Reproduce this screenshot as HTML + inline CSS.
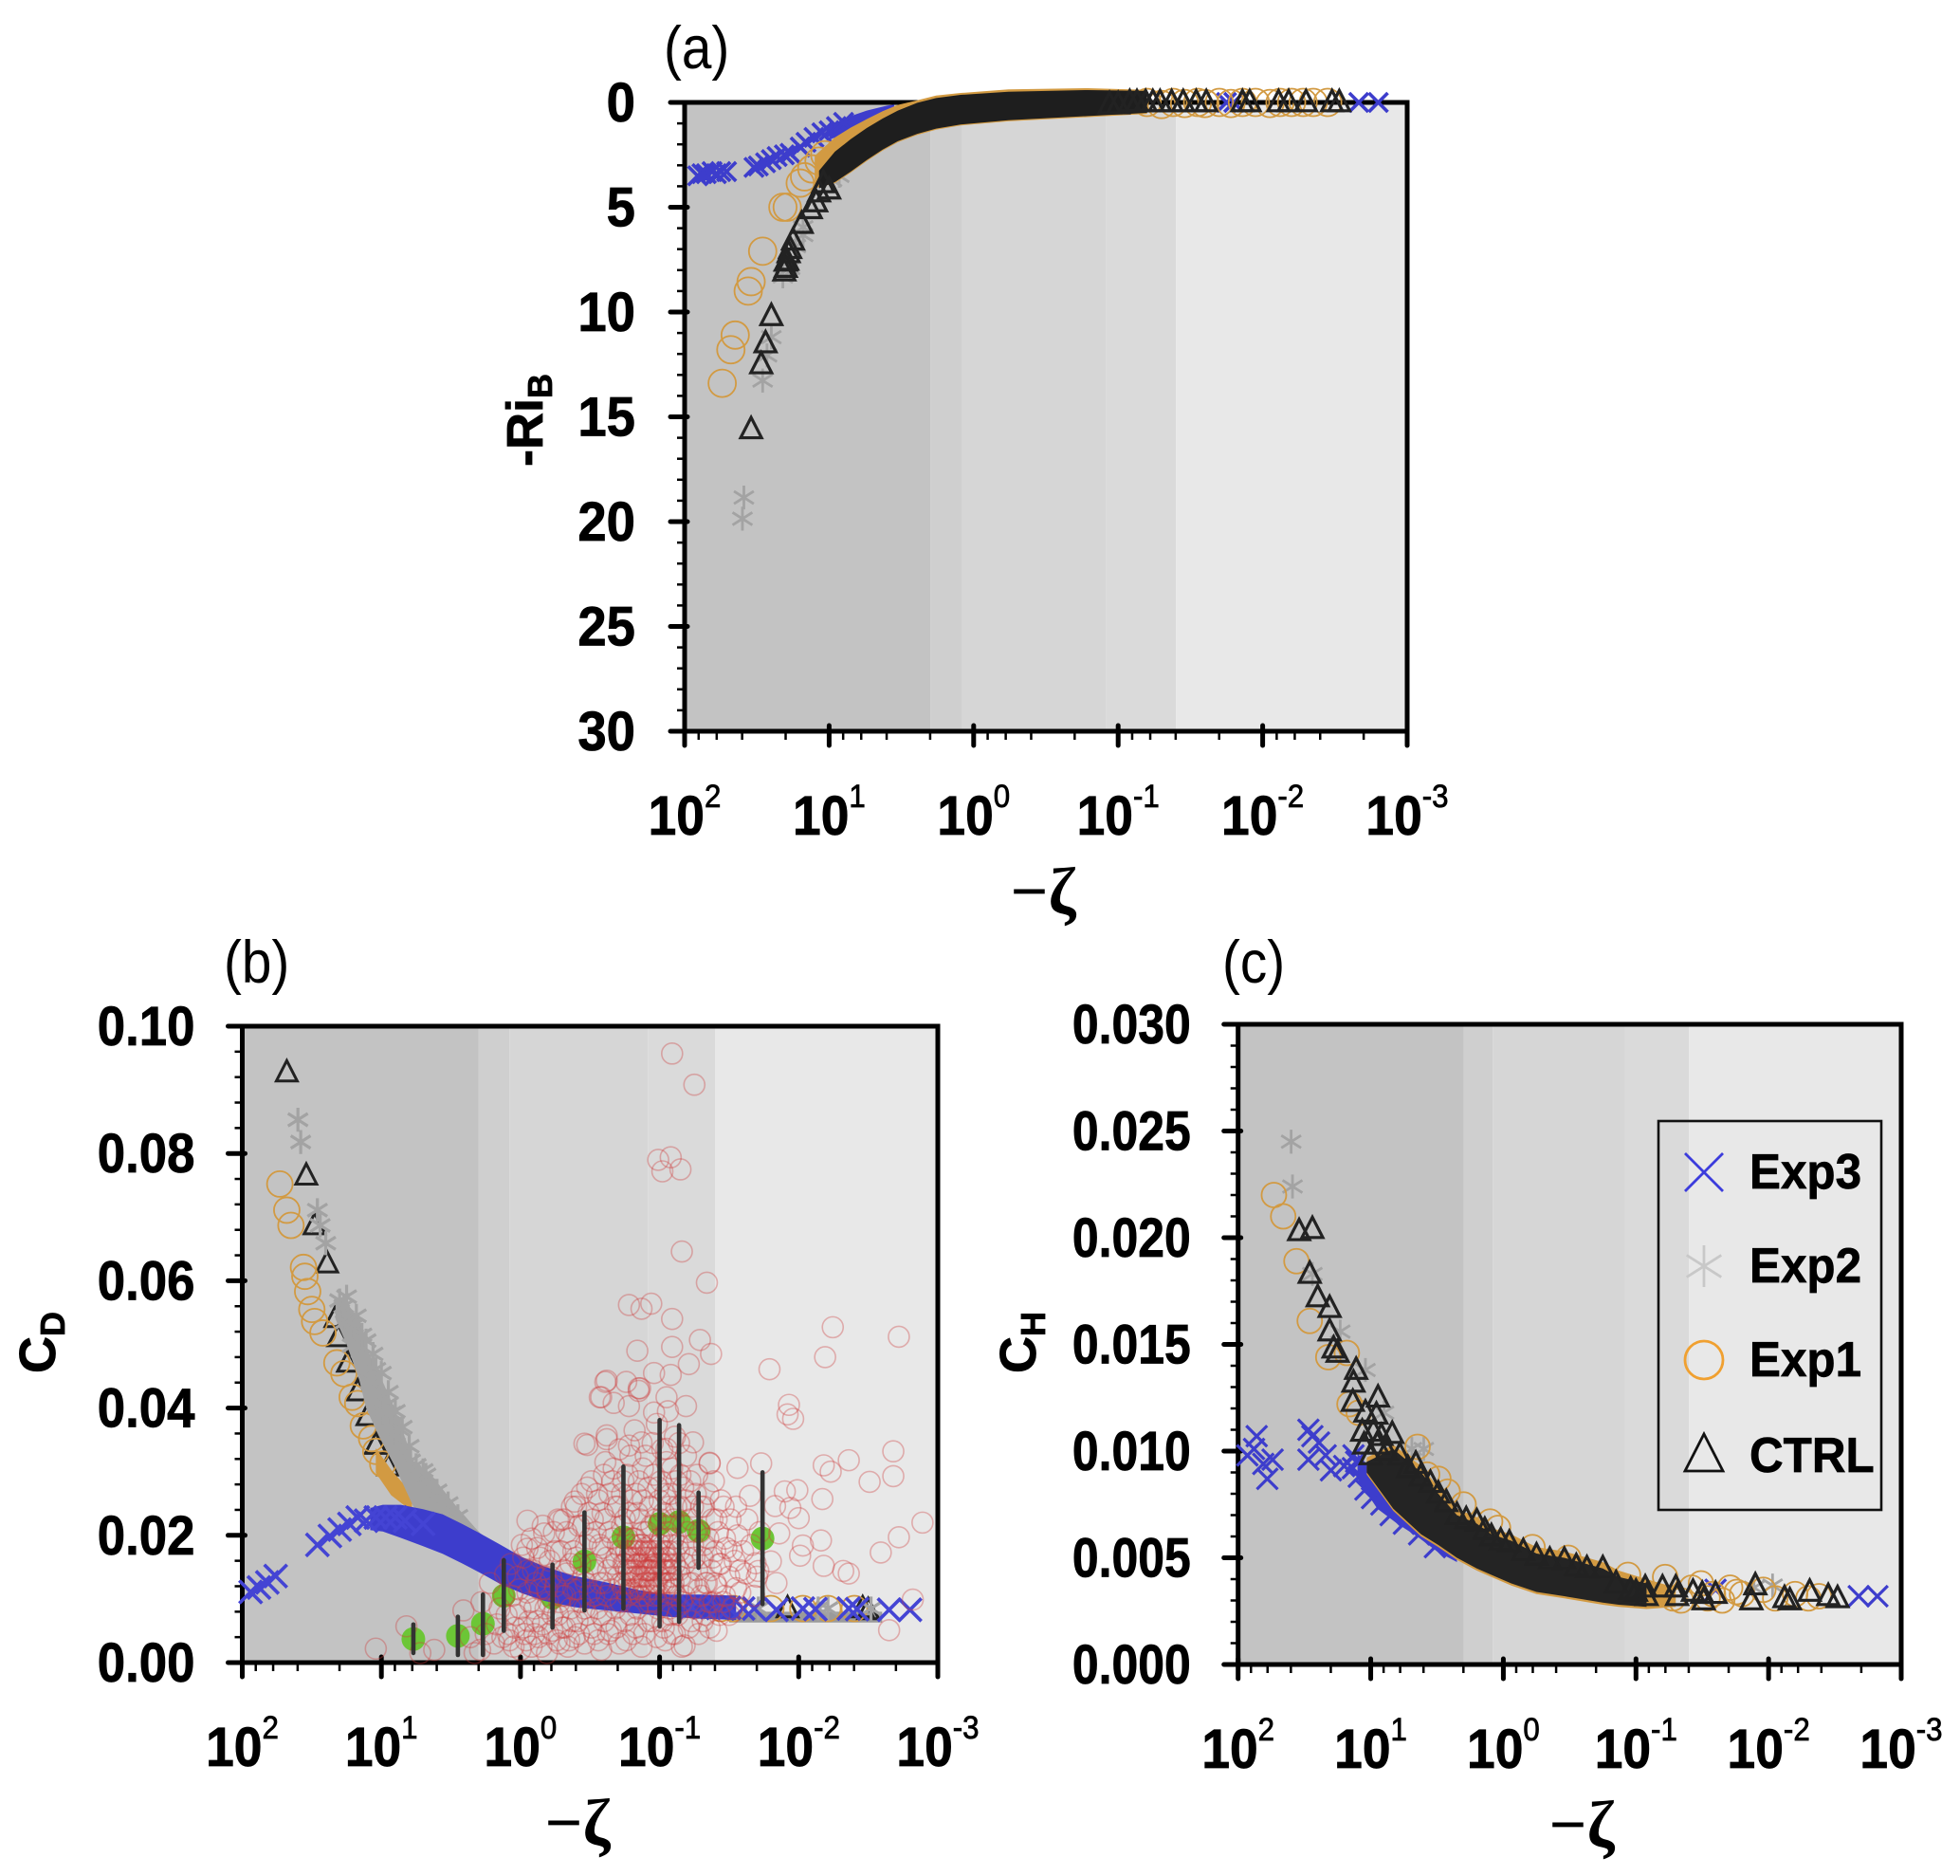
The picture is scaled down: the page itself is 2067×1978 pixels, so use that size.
<!DOCTYPE html>
<html lang="en">
<head>
<meta charset="utf-8">
<title>Stability dependence of bulk coefficients</title>
<style>
html,body{margin:0;padding:0;background:#fff;}
svg{display:block;}
text{font-family:"Liberation Sans",sans-serif;fill:#000;}
</style>
</head>
<body>
<svg id="chart" xmlns="http://www.w3.org/2000/svg" width="2067" height="1978" viewBox="0 0 2067 1978"></svg>
<script>
// All x values are log10(-zeta).
const xTickExponents = ["2","1","0","-1","-2","-3"];
const shadeEdges = [2, 0.3, 0.08, -0.916, -1.4, -3];
const shadeColors = ["#c3c3c3","#cfcfcf","#d6d6d6","#dadada","#e8e8e8"];
const riTicks = ["0","5","10","15","20","25","30"];
const cdTicks = ["0.00","0.02","0.04","0.06","0.08","0.10"];
const chTicks = ["0.000","0.005","0.010","0.015","0.020","0.025","0.030"];
const legendLabels = ["Exp3","Exp2","Exp1","CTRL"];

// Panel (a): [log10(-zeta), -RiB]
const a_exp3 = [[1.91,3.5],[1.88,3.4],[1.85,3.4],[1.81,3.3],[1.78,3.4],[1.75,3.3],[1.71,3.3],[1.52,3.1],[1.49,3.03],[1.44,2.88],[1.4,2.73],[1.36,2.58],[1.31,2.5],[1.27,2.43],[1.2,2.13],[1.16,1.9],[1.105,1.67],[1.05,1.45],[1.0,1.35],[0.95,1.15],[0.9,0.95],[-1.75,0],[-1.8,0],[-2.665,0],[-2.8,0]];
const a_exp2 = [[1.59,18.85],[1.6,19.86],[1.46,13.27],[1.43,12.07],[1.4,11.2],[1.32,8.3],[1.27,7.9],[1.23,6.86],[1.18,6.33],[1.18,5.96],[0.98,3.7],[0.93,3.5]];
const a_exp1 = [[1.74,13.4],[1.68,11.8],[1.65,11.1],[1.56,9.0],[1.54,8.55],[1.46,7.1],[1.32,5.0],[1.29,5.0],[1.2,3.85],[1.17,3.55],[1.12,3.17],[1.07,2.8],[1.03,2.5],[-1.2,0],[-1.3,0.1],[-1.38,0],[-1.46,0.05],[-1.55,0],[-1.6,0.05],[-1.7,0],[-1.78,0.05],[-1.86,0],[-1.95,0],[-2.05,0.05],[-2.12,0],[-2.2,0],[-2.28,0],[-2.35,0],[-2.45,0]];
const a_ctrl = [[1.4,10.2],[1.44,11.5],[1.47,12.5],[1.54,15.6],[1.31,8.07],[1.3,7.9],[1.3,7.6],[1.29,7.56],[1.28,7.2],[1.27,7.0],[1.25,6.6],[1.19,5.8],[1.127,5.1],[1.09,4.77],[1.0,4.16],[1.04,3.86],[1.07,4.3],[-1.0,0.1],[-0.94,0.1],[-1.08,0],[-1.13,0],[-1.19,0],[-1.24,0],[-1.29,0],[-1.37,0],[-1.45,0],[-1.54,0],[-1.61,0],[-1.86,0],[-1.91,0],[-2.11,0],[-2.18,0],[-2.3,0],[-2.48,0],[-2.53,0]];
const a_bandExp3Log = [1.0,0.85,0.74,0.6,0.55];
const a_bandExp3Lo = [1.1,0.65,0.39,0.15,0.1];
const a_bandExp3Hi = [1.8,1.3,0.95,0.4,0.2];
const a_bandExp1Log = [1.1,0.96,0.85,0.74,0.63,0.525,0.39,0.26,0.09,-0.24,-0.79,-1.2];
const a_bandExp1Lo = [2.55,1.67,1.2,0.8,0.42,0.12,-0.1,-0.33,-0.45,-0.62,-0.68,-0.6];
const a_bandExp1Hi = [4.1,3.85,3.35,2.8,2.3,1.9,1.55,1.3,1.1,0.9,0.7,0.55];
const a_bandCtrlLog = [1.07,0.96,0.85,0.74,0.63,0.525,0.39,0.26,0.09,-0.24,-0.79,-1.2];
const a_bandCtrlLo = [3.26,2.35,1.75,1.22,0.77,0.39,0.015,-0.21,-0.36,-0.51,-0.59,-0.55];
const a_bandCtrlHi = [4.1,3.8,3.3,2.75,2.25,1.85,1.5,1.25,1.05,0.85,0.65,0.5];

// Panel (b): [log10(-zeta), CD]
const b_exp3 = [[1.94,0.0111],[1.88,0.0118],[1.82,0.0126],[1.76,0.0136],[1.46,0.0185],[1.37,0.0199],[1.3,0.0209],[1.23,0.0218],[1.17,0.0228],[1.11,0.0223],[1.04,0.0228],[0.97,0.0228],[0.9,0.0228],[0.83,0.0223],[0.7,0.0218],[-1.23,0.0087],[-1.32,0.0087],[-1.42,0.0086],[-1.5,0.0086],[-1.6,0.0085],[-1.68,0.0085],[-1.84,0.0083],[-2.03,0.0085],[-2.12,0.0084],[-2.36,0.0085],[-2.42,0.0084],[-2.65,0.0083],[-2.8,0.0083]];
const b_exp2 = [[1.6,0.0853],[1.58,0.0818],[1.46,0.0711],[1.44,0.0687],[1.4,0.0659],[1.3,0.0569],[1.26,0.0535],[1.21,0.0498],[1.11,0.0506],[1.04,0.0461],[0.95,0.0407],[0.93,0.0392],[0.87,0.0367],[0.79,0.0317],[0.7,0.0302],[1.27,0.056],[1.2,0.053],[1.08,0.0441],[0.99,0.0393],[0.9,0.036],[1.25,0.0575],[1.18,0.0545],[1.14,0.0515],[1.06,0.0485],[1.0,0.0455],[0.95,0.0425],[0.9,0.0395],[0.85,0.037],[0.8,0.034],[0.75,0.031],[0.68,0.0295],[0.6,0.027],[0.52,0.025],[0.45,0.023],[-1.71,0.0085],[-2.14,0.0085],[-2.21,0.0085],[-2.52,0.0085]];
const b_exp1 = [[1.73,0.0752],[1.68,0.0711],[1.65,0.0687],[1.56,0.0621],[1.55,0.0607],[1.53,0.0583],[1.5,0.0555],[1.48,0.0536],[1.42,0.0518],[1.32,0.0471],[1.27,0.0454],[1.21,0.0417],[1.17,0.0407],[1.13,0.0372],[1.07,0.0352],[1.04,0.0332],[0.99,0.0312],[-1.44,0.0085],[-1.53,0.0085],[-1.8,0.0085],[-2.03,0.0085],[-2.21,0.0085],[-2.4,0.0085]];
const b_ctrl = [[1.68,0.0927],[1.54,0.0765],[1.48,0.0687],[1.39,0.0627],[1.33,0.0541],[1.31,0.0511],[1.24,0.0471],[1.17,0.0426],[1.1,0.0387],[1.04,0.0342],[0.95,0.0308],[-1.92,0.0085],[-2.46,0.0085],[-2.5,0.0082]];
const b_bandExp3Log = [1.08,0.99,0.86,0.7,0.56,0.42,0.29,0.15,-0.01,-0.17,-0.39,-0.62,-0.85,-1.07,-1.3,-1.55];
const b_bandExp3Lo = [0.0208,0.0206,0.0196,0.0183,0.0171,0.0156,0.0141,0.0124,0.0109,0.0097,0.0087,0.0082,0.0077,0.0072,0.0069,0.0067];
const b_bandExp3Hi = [0.0243,0.0248,0.0248,0.0241,0.0233,0.0218,0.0203,0.0186,0.0166,0.0151,0.0136,0.0126,0.0114,0.0107,0.0107,0.0105];
const b_bandExp2Log = [1.33,1.25,1.16,1.11,1.02,0.9,0.77,0.63,0.47,0.33,0.17];
const b_bandExp2Lo = [0.054,0.05,0.0445,0.04,0.0357,0.0307,0.0245,0.0225,0.0205,0.019,0.016];
const b_bandExp2Hi = [0.0575,0.0565,0.0541,0.0496,0.0456,0.0397,0.0317,0.0292,0.0248,0.0213,0.0175];
const b_bandExp1Log = [1.04,0.93,0.83,0.78];
const b_bandExp1Lo = [0.0298,0.0263,0.0246,0.0238];
const b_bandExp1Hi = [0.0337,0.0303,0.0278,0.0253];
const b_tailLog = [-1.5,-1.9,-2.3,-2.6];
const b_tailLo = [0.0063,0.0063,0.0063,0.0063];
const b_tailHi = [0.008,0.008,0.008,0.008];

const b_obsMeanLog = [0.77,0.45,0.27,0.12,-0.23,-0.46,-0.74,-1.0,-1.14,-1.28,-1.74];
const b_obsMean = [0.0037,0.0042,0.0061,0.0105,0.0102,0.0159,0.0197,0.0218,0.0221,0.0207,0.0195];
const b_obsLow = [0.0015,0.0012,0.0012,0.005,0.0055,0.0082,0.0085,0.0057,0.0064,0.0149,0.0092];
const b_obsHigh = [0.006,0.0072,0.0107,0.0161,0.0154,0.0236,0.0308,0.0381,0.0373,0.0267,0.0299];

const b_obs = [
[-2.245,0.0527],[-2.72,0.0512],[-2.19,0.048],[-1.79,0.0461],[-1.93,0.0405],[-1.92,0.039],[-1.96,0.0383],[-2.68,0.0332],[-2.68,0.0293],[-2.51,0.0284],[-2.36,0.0318],[-2.18,0.031],[-2.23,0.03],[-1.73,0.0313],[-1.56,0.0306],[-1.36,0.0314],[-2.17,0.0257],[-1.65,0.0262],[-1.9,0.0269],[-1.99,0.0271],[-1.83,0.0246],[-1.94,0.0243],[-2,0.0227],[-2.89,0.022],[-2.72,0.0197],[-2.59,0.0173],[-2.16,0.0192],[-1.86,0.0203],[-2.03,0.0184],[-2.01,0.0168],[-2.18,0.0152],[-2.32,0.0144],[-2.36,0.014],[-1.84,0.0125],[-1.69,0.0156],[-2.82,0.0099],[-2.65,0.0051],[-1.8,0.0159],[-1.71,0.0144],[-1.55,0.0117],[-1.41,0.005],[-1.18,0.0027],
[-1.09,0.0957],[-1.25,0.0908],[-0.99,0.079],[-1.08,0.0794],[-1.02,0.0772],[-1.15,0.0775],[-1.16,0.0646],[-1.34,0.0597],[-0.78,0.0562],[-0.87,0.0556],[-0.94,0.0564],[-1.09,0.054],[-1.29,0.0507],[-1.37,0.0485],[-1.09,0.0496],[-0.84,0.049],[-1.21,0.0469],[-1.08,0.0452],[-0.62,0.0443],[-0.76,0.0441],[-0.96,0.0455],[-0.86,0.0431],[-0.58,0.0417],[-0.67,0.0408],[-0.78,0.0403],[-0.85,0.0427],[-1.05,0.0417],[-1.19,0.0403],[-0.96,0.0393],[-0.46,0.0344],[-0.62,0.0351],[-0.78,0.0341],[-0.87,0.0346],[-1.05,0.0336],[-1.24,0.0346],[-1.36,0.0313],
[1.04,0.0022],[0.82,0.0057],[0.72,0.0015],[0.62,0.002],[0.41,0.0082],[0.36,0.004],[0.29,0.002],[0.33,0.0015],[0.17,0.006],[0.13,0.004],[0.11,0.0139],[-0.05,0.0223],[-0.17,0.0203],[-0.05,0.0179],[-0.17,0.0169],[-0.28,0.0223],[-0.39,0.0253],[-0.48,0.0342],[-0.62,0.0357],[-0.61,0.0441],[-0.57,0.0417],[-0.85,0.0431],
[0.1,0.0075],[0.08,0.0035],[0.06,0.0105],[0.04,0.0055],[0.02,0.0135],[0,0.002],[0,0.0085],[-0.02,0.0165],[-0.03,0.0045],[-0.05,0.011],[-0.06,0.0065],[-0.08,0.0025],[-0.09,0.0145],[-0.1,0.0085],[-0.12,0.018],[-0.13,0.004],[-0.14,0.0115],[-0.16,0.006],[-0.17,0.0135],[-0.19,0.0015],[-0.2,0.0095],[-0.21,0.016],[-0.23,0.005],[-0.24,0.0205],[-0.25,0.012],[-0.27,0.0075],[-0.28,0.003],[-0.29,0.0175],[-0.3,0.0105],
[-0.31,0.0225],[-0.32,0.0055],[-0.33,0.014],[-0.34,0.0025],[-0.35,0.0195],[-0.36,0.0085],[-0.37,0.0245],[-0.38,0.0115],[-0.39,0.004],[-0.4,0.0165],[-0.41,0.0065],[-0.42,0.0215],[-0.43,0.0095],[-0.44,0.0265],[-0.45,0.0135],[-0.46,0.003],[-0.47,0.0185],[-0.48,0.0075],[-0.49,0.0235],[-0.5,0.011],[-0.51,0.0285],[-0.52,0.0155],[-0.53,0.0045],[-0.54,0.0205],[-0.55,0.0085],[-0.56,0.0255],[-0.57,0.0125],[-0.58,0.002],[-0.59,0.018],[-0.6,0.0295],[-0.6,0.0065],
[-0.61,0.0225],[-0.62,0.0105],[-0.63,0.0145],[-0.64,0.0265],[-0.65,0.005],[-0.66,0.0195],[-0.67,0.0305],[-0.68,0.0085],[-0.69,0.0165],[-0.7,0.0245],[-0.71,0.003],[-0.72,0.0125],[-0.73,0.0215],[-0.74,0.0285],[-0.75,0.0065],[-0.76,0.0175],[-0.77,0.0105],[-0.78,0.0235],[-0.79,0.0325],[-0.8,0.014],[-0.81,0.0045],[-0.82,0.0195],[-0.83,0.0265],[-0.84,0.0085],[-0.85,0.0155],[-0.86,0.0225],[-0.87,0.0025],[-0.88,0.0305],[-0.89,0.0125],[-0.9,0.018],[-0.91,0.0205],[-0.92,0.0065],[-0.93,0.0245],[-0.94,0.0145],[-0.95,0.0345],[-0.96,0.0105],[-0.97,0.0165],[-0.98,0.004],[-0.99,0.0275],[-1,0.0195],
[-0.7,0.0135],[-0.72,0.0175],[-0.74,0.0115],[-0.75,0.0155],[-0.77,0.0195],[-0.78,0.0125],[-0.8,0.0165],[-0.81,0.011],[-0.82,0.0145],[-0.84,0.0185],[-0.85,0.012],[-0.87,0.0155],[-0.88,0.0205],[-0.89,0.0135],[-0.9,0.0105],[-0.91,0.0165],[-0.93,0.0125],[-0.94,0.0185],[-0.95,0.015],[-0.96,0.0115],[-0.98,0.0175],[-0.99,0.0135],[-1,0.0105],[-1.01,0.0155],[-1.02,0.0195],[-1.03,0.0125],[-1.05,0.0165],[-1.06,0.011],[-1.07,0.0145],[-1.08,0.0185],[-1.1,0.0125],[-1.11,0.0155],[-1.12,0.0105],[-1.14,0.0175],[-1.15,0.0135],
[-0.76,0.0145],[-0.79,0.0175],[-0.83,0.0165],[-0.86,0.0135],[-0.92,0.0145],[-0.97,0.0155],[-1.04,0.0145],[-1.09,0.0135],[-0.83,0.0115],[-0.98,0.0125],[-0.88,0.0175],[-0.93,0.0165],[-1.03,0.0175],[-0.75,0.0125],[-1.07,0.0125],
[-1.01,0.0285],[-1.02,0.0065],[-1.03,0.0235],[-1.04,0.0035],[-1.05,0.0315],[-1.06,0.0215],[-1.07,0.0085],[-1.08,0.0265],[-1.09,0.0045],[-1.1,0.0195],[-1.11,0.0355],[-1.12,0.0245],[-1.13,0.0075],[-1.14,0.0145],[-1.15,0.0295],[-1.16,0.0025],[-1.17,0.0215],[-1.18,0.0105],[-1.19,0.0255],[-1.2,0.0165],[-1.21,0.0055],[-1.22,0.0225],[-1.23,0.0125],[-1.24,0.0185],[-1.25,0.0085],[-1.26,0.0265],[-1.27,0.0145],[-1.28,0.0045],[-1.29,0.0205],[-1.3,0.0105],[-1.31,0.0165],[-1.32,0.0245],[-1.33,0.0075],[-1.34,0.0125],[-1.35,0.0195],[-1.36,0.0055],[-1.37,0.0145],[-1.38,0.0225],[-1.39,0.0095],[-1.4,0.0175],
[-1.41,0.012],[-1.42,0.0205],[-1.43,0.0075],[-1.44,0.0155],[-1.46,0.0245],[-1.47,0.0105],[-1.48,0.018],[-1.5,0.0135],[-1.51,0.0225],[-1.52,0.0085],[-1.54,0.016],[-1.56,0.02],[-1.58,0.011],[-1.6,0.0175],[-1.62,0.014],[-1.63,0.0225],[-1.66,0.0185],[-1.68,0.0105],[-1.7,0.0135],[-1.72,0.0205],
[0.28,0.0095],[0.25,0.0045],[0.22,0.0125],[0.19,0.003],[0.15,0.0085],[0.12,0.0105],[0.09,0.0045],[0.07,0.0155],[0.05,0.0025],[0.03,0.0075],[0.01,0.0115],[-0.01,0.0185],[-0.02,0.0055],[-0.04,0.0035],[-0.05,0.0145],[-0.07,0.0095],[-0.08,0.0195],[-0.1,0.0045],[-0.11,0.0125],[-0.12,0.0065],[-0.14,0.0165],[-0.15,0.0025],[-0.16,0.0215],[-0.18,0.0085],[-0.19,0.0115],[-0.2,0.0045],[-0.22,0.0135],[-0.23,0.0075],[-0.25,0.0175],[-0.26,0.0035],[-0.27,0.0225],[-0.28,0.0095],[-0.3,0.0055],[-0.31,0.0145],
[-0.32,0.0105],[-0.33,0.0205],[-0.35,0.0035],[-0.36,0.0155],[-0.37,0.0065],[-0.38,0.0175],[-0.4,0.0245],[-0.41,0.0115],[-0.42,0.0045],[-0.43,0.0155],[-0.45,0.0215],[-0.46,0.0085],[-0.47,0.0125],[-0.48,0.0275],[-0.5,0.0195],[-0.51,0.0055],[-0.52,0.0225],[-0.53,0.0105],[-0.54,0.0145],[-0.55,0.0265],[-0.56,0.0035],[-0.57,0.0185],[-0.58,0.0075],[-0.59,0.0235],[-0.6,0.0125],[-0.61,0.0315],[-0.62,0.0165],[-0.63,0.0045],
[-0.64,0.0205],[-0.65,0.0115],[-0.66,0.0285],[-0.67,0.0155],[-0.68,0.0245],[-0.69,0.0055],[-0.7,0.0185],[-0.71,0.0335],[-0.72,0.0095],[-0.73,0.0265],[-0.74,0.0155],[-0.75,0.0225],[-0.76,0.0035],[-0.77,0.0295],[-0.78,0.0165],[-0.79,0.0075],[-0.8,0.0255],[-0.81,0.0195],[-0.82,0.0365],[-0.83,0.0055],[-0.84,0.0235],[-0.85,0.0285],[-0.86,0.0105],[-0.87,0.0185],[-0.88,0.0255],[-0.89,0.0045],[-0.9,0.0325],[-0.91,0.0145],[-0.92,0.0275],[-0.93,0.0095],[-0.94,0.0215],[-0.95,0.0065],[-0.96,0.0295],[-0.97,0.0225],[-0.98,0.0375],[-0.99,0.0085],[-1,0.0255],
[-1.01,0.0225],[-1.02,0.0335],[-1.03,0.0055],[-1.04,0.0265],[-1.05,0.0205],[-1.06,0.0395],[-1.07,0.0245],[-1.08,0.0075],[-1.09,0.0305],[-1.1,0.0225],[-1.11,0.0045],[-1.12,0.0285],[-1.13,0.0185],[-1.14,0.0345],[-1.15,0.0245],[-1.16,0.0095],[-1.17,0.0275],[-1.18,0.0155],[-1.19,0.0325],[-1.2,0.0205],[-1.21,0.0125],[-1.22,0.0285],[-1.23,0.0065],[-1.24,0.0245],[-1.25,0.0165],[-1.26,0.0205],[-1.27,0.0295],[-1.28,0.0115],[-1.3,0.0245],[-1.31,0.0065],[-1.32,0.0185],[-1.33,0.0125],[-1.35,0.0265],[-1.36,0.0095],[-1.38,0.0165],[-1.39,0.0285],[-1.4,0.0125],[-1.41,0.0225],[-1.43,0.0155],[-1.44,0.0255],[-1.46,0.0095],[-1.47,0.0195],[-1.5,0.0075],[-1.52,0.0175],[-1.55,0.0245],[-1.58,0.0145],
[-0.78,0.0145],[-0.79,0.0115],[-0.8,0.0185],[-0.81,0.0135],[-0.82,0.0175],[-0.83,0.0135],[-0.84,0.0155],[-0.85,0.0175],[-0.86,0.0115],[-0.87,0.0185],[-0.88,0.0135],[-0.89,0.0165],[-0.9,0.0145],[-0.91,0.0115],[-0.92,0.0175],[-0.93,0.0145],[-0.94,0.0125],[-0.95,0.0175],[-0.96,0.0155],[-0.97,0.0125],[-0.98,0.0145],[-0.99,0.0165],[-1,0.0185],[-1.01,0.0125],[-1.02,0.0155],[-1.03,0.0145],[-1.04,0.0175],[-1.05,0.0125],[-1.06,0.0155],[-1.07,0.0175],[-1.08,0.0145],[-1.09,0.0165],[-1.1,0.0115]
];

// Panel (c): [log10(-zeta), CH]
const c_exp3 = [[1.93,0.0098],[1.86,0.0107],[1.88,0.0101],[1.81,0.0094],[1.74,0.0096],[1.78,0.0087],[1.47,0.0096],[1.47,0.011],[1.44,0.0107],[1.39,0.0104],[1.34,0.0098],[1.3,0.0091],[1.2,0.0093],[1.13,0.0098],[1.135,0.0092],[1.11,0.0095],[1.09,0.0088],[1.04,0.0082],[0.99,0.0078],[0.92,0.0075],[0.85,0.007],[0.75,0.0066],[0.635,0.0061],[0.516,0.0055],[-1.6,0.0035],[-2.68,0.0032],[-2.82,0.0032]];
const c_exp2 = [[1.6,0.0245],[1.59,0.0224],[1.44,0.0183],[1.23,0.0156],[1.04,0.0138],[0.9,0.0118],[0.69,0.0101],[0.6,0.0101],[-2.03,0.0037],[-1.89,0.0036]];
const c_exp1 = [[1.73,0.022],[1.66,0.021],[1.56,0.0189],[1.46,0.0161],[1.32,0.0144],[1.18,0.0146],[1.16,0.0122],[1.09,0.0118],[0.647,0.0102],[0.575,0.0089],[0.49,0.0087],[0.42,0.0081],[0.3,0.0075],[0.1,0.0067],[0.04,0.0064],[-0.22,0.0055],[-0.49,0.005],[-0.94,0.0042],[-1.1,0.0033],[-1.22,0.0041],[-1.28,0.0031],[-1.34,0.003],[-1.42,0.0036],[-1.49,0.0038],[-1.54,0.0031],[-1.58,0.0033],[-1.65,0.003],[-1.71,0.0036],[-1.76,0.0034],[-1.8,0.0033],[-1.96,0.0035],[-2.05,0.0031],[-2.2,0.0033],[-2.3,0.0031],[-2.38,0.0032]];
const c_ctrl = [[1.54,0.0203],[1.44,0.0204],[1.46,0.0183],[1.4,0.0172],[1.31,0.0167],[1.31,0.0156],[1.28,0.0148],[1.25,0.0146],[1.11,0.0138],[1.13,0.0132],[0.945,0.0125],[1.135,0.0123],[1.04,0.0118],[0.957,0.0117],[1.064,0.0109],[0.98,0.0109],[0.92,0.0107],[0.838,0.0108],[1.0,0.0098],[1.05,0.0103],[0.95,0.0103],[0.88,0.01],[0.78,0.0098],[0.72,0.0092],[0.66,0.0094],[0.623,0.0088],[0.55,0.0085],[0.49,0.008],[0.43,0.0076],[0.35,0.007],[0.28,0.0068],[0.2,0.0067],[0.14,0.0063],[0.09,0.006],[0.02,0.0058],[-0.045,0.0057],[-0.15,0.0053],[-0.25,0.0051],[-0.35,0.0049],[-0.46,0.0049],[-0.55,0.0046],[-0.63,0.0045],[-0.75,0.0045],[-0.85,0.0038],[-0.96,0.0035],[-1.0,0.0034],[-1.07,0.0036],[-1.08,0.0032],[-1.2,0.0036],[-1.3,0.0036],[-1.31,0.0032],[-1.43,0.0034],[-1.5,0.0033],[-1.51,0.003],[-1.6,0.0033],[-1.9,0.0037],[-1.87,0.003],[-2.12,0.0031],[-2.16,0.003],[-2.31,0.0034],[-2.45,0.0032],[-2.52,0.0031]];
const c_bandExp3Log = [1.1,0.95,0.8,0.65,0.5,0.35];
const c_bandExp3Lo = [0.0087,0.0073,0.0066,0.006,0.0053,0.0048];
const c_bandExp3Hi = [0.0099,0.0088,0.0078,0.0068,0.0059,0.0053];
const c_bandExp1Log = [1.03,0.83,0.62,0.49,0.35,0.2,0.09,-0.06,-0.25,-0.46,-0.75,-0.87,-1.08,-1.3];
const c_bandExp1Lo = [0.0089,0.0072,0.006,0.0055,0.0049,0.0044,0.0041,0.0037,0.0033,0.0031,0.0028,0.0027,0.0026,0.0027];
const c_bandExp1Hi = [0.0097,0.0103,0.0093,0.0083,0.0073,0.0069,0.0064,0.0061,0.0055,0.0053,0.0048,0.0044,0.004,0.0036];
const c_bandCtrlLog = [1.03,0.83,0.62,0.49,0.35,0.2,0.09,-0.06,-0.25,-0.46,-0.75,-0.87,-1.08];
const c_bandCtrlLo = [0.009,0.0073,0.0061,0.0056,0.005,0.0045,0.0042,0.0038,0.0034,0.0032,0.0029,0.0028,0.0027];
const c_bandCtrlHi = [0.0095,0.0101,0.009,0.008,0.007,0.0066,0.0061,0.0058,0.0052,0.005,0.0045,0.0041,0.0038];

const svg = document.getElementById('chart');
const NS = 'http://www.w3.org/2000/svg';
const BLUE = '#3d3dcc', GRAY = '#a3a3a3', ORANGE = '#d29a42', BLACK = '#222222';

function make(parent, tag, attrs) {
  const el = document.createElementNS(NS, tag);
  for (const k in attrs) el.setAttribute(k, attrs[k]);
  parent.appendChild(el);
  return el;
}
function group(parent, name) {
  const g = make(parent, 'g', {});
  
  
  return g;
}
function drawCross(g, x, y, r, color, w) {
  const p = make(g, 'path', {d:`M${x-r} ${y-r}L${x+r} ${y+r}M${x-r} ${y+r}L${x+r} ${y-r}`, stroke:color, 'stroke-width':w, fill:'none'});
  
  
}
function drawStar(g, x, y, r, color, w) {
  const h = r * 0.87, v = r * 1.05;
  const p = make(g, 'path', {d:`M${x} ${y-v}V${y+v}M${x-h} ${y-r*0.55}L${x+h} ${y+r*0.55}M${x-h} ${y+r*0.55}L${x+h} ${y-r*0.55}`, stroke:color, 'stroke-width':w, fill:'none'});
  
  
}
function drawCircle(g, x, y, r, color, w) {
  const p = make(g, 'circle', {cx:x, cy:y, r:r, stroke:color, 'stroke-width':w, fill:'none'});
  
  
}
function drawTriangle(g, x, y, r, color, w) {
  const p = make(g, 'path', {d:`M${x} ${y-r*1.15}L${x+r} ${y+r*0.8}H${x-r}Z`, stroke:color, 'stroke-width':w, fill:'none', 'stroke-linejoin':'miter'});
  
  
}

function drawPanel(cfg) {
  const root = group(svg, 'panel-' + cfg.id);
  const xOf = lg => cfg.x0 + (2 - lg) * (cfg.x1 - cfg.x0) / 5;
  const yOf = v => cfg.yBottomPx + (v - cfg.vBottom) / (cfg.vTop - cfg.vBottom) * (cfg.yTopPx - cfg.yBottomPx);
  cfg.xOf = xOf; cfg.yOf = yOf;

  // shading
  const shade = group(root, 'stability-shading');
  shadeColors.forEach((c, i) => {
    const a = xOf(shadeEdges[i]), b = xOf(shadeEdges[i + 1]);
    const r = make(shade, 'rect', {x:a, y:Math.min(cfg.yTopPx, cfg.yBottomPx), width:b - a, height:Math.abs(cfg.yBottomPx - cfg.yTopPx), fill:c});
    
    
  });

  // axes
  const axes = group(root, 'axes');
  const frame = make(axes, 'rect', {x:cfg.x0, y:Math.min(cfg.yTopPx, cfg.yBottomPx), width:cfg.x1 - cfg.x0, height:Math.abs(cfg.yBottomPx - cfg.yTopPx), fill:'none', stroke:'#000', 'stroke-width':5});
  
  

  xTickExponents.forEach((e, i) => {
    const lg = parseFloat(e);
    const x = xOf(lg);
    const t = make(axes, 'line', {x1:x, x2:x, y1:cfg.axisY - 6, y2:cfg.axisY + 15, stroke:'#000', 'stroke-width':5, 'stroke-linecap':'round'});
    
    
    if (i < xTickExponents.length - 1) {
      [0.903, 0.778, 0.602, 0.301].forEach(off => {
        const mx = xOf(lg - 1 + off);
        const m = make(axes, 'line', {x1:mx, x2:mx, y1:cfg.axisY, y2:cfg.axisY + 9, stroke:'#000', 'stroke-width':2.5});
        
        
      });
    }
    const label = make(axes, 'text', {transform:`translate(${x},${cfg.axisY + 109}) scale(0.92,1)`, 'text-anchor':'middle', 'font-size':58, 'font-weight':'bold', stroke:'#000', 'stroke-width':0.8});
    
    
    label.appendChild(document.createTextNode('10'));
    const sup = make(label, 'tspan', {'font-size':34, 'font-weight':'normal', dy:-29, stroke:'#000', 'stroke-width':0.8});
    sup.textContent = e;
  });

  const n = cfg.ticks.length;
  cfg.ticks.forEach((lab, i) => {
    const y = cfg.tickPx(i, n);
    const t = make(axes, 'line', {x1:cfg.x0 - 15, x2:cfg.x0 + 3, y1:y, y2:y, stroke:'#000', 'stroke-width':5, 'stroke-linecap':'round'});
    
    
    if (i < n - 1) {
      const next = cfg.tickPx(i + 1, n);
      for (let k = 1; k < 5; k++) {
        const my = y + (next - y) * k / 5;
        const m = make(axes, 'line', {x1:cfg.x0 - 8, x2:cfg.x0, y1:my, y2:my, stroke:'#000', 'stroke-width':2.5});
        
        
      }
    }
    const tx = make(axes, 'text', {transform:`translate(${cfg.x0 - cfg.labelGap},${y + 20}) scale(${cfg.labelScale},1)`, 'text-anchor':'end', 'font-size':58, 'font-weight':'bold', stroke:'#000', 'stroke-width':0.8});
    
    
    tx.textContent = lab;
  });

  // panel letter
  const letter = make(root, 'text', {transform:`translate(${cfg.letterX},${cfg.letterY}) scale(0.9,1)`, 'font-size':63});
  
  
  letter.textContent = '(' + cfg.id + ')';

  // x title
  const xt = make(root, 'text', {x:cfg.xTitleX, y:cfg.axisY + 192, 'text-anchor':'middle', 'font-size':70, 'font-weight':'bold', style:'font-family:"Liberation Serif","DejaVu Serif",serif'});
  
  
  xt.textContent = '\u2212\u03B6';

  // y title
  const yt = make(root, 'text', {transform:`translate(${cfg.yTitleX},${cfg.yTitleY}) rotate(-90)`, 'font-size':54, 'font-weight':'bold', stroke:'#000', 'stroke-width':0.8});
  
  
  yt.appendChild(document.createTextNode(cfg.yTitle));
  const sub = make(yt, 'tspan', {'font-size':36, dy:10});
  sub.textContent = cfg.yTitleSub;

  return root;
}

function drawBand(root, cfg, name, logs, lo, hi, color) {
  let d = '';
  logs.forEach((lg, i) => { d += (i ? 'L' : 'M') + cfg.xOf(lg) + ' ' + cfg.yOf(lo[i]); });
  for (let i = logs.length - 1; i >= 0; i--) d += 'L' + cfg.xOf(logs[i]) + ' ' + cfg.yOf(hi[i]);
  const p = make(root, 'path', {d:d + 'Z', fill:color});
  
  
}
function drawSeries(root, cfg, name, pts, fn, r, color, w) {
  const g = group(root, name);
  pts.forEach(p => fn(g, cfg.xOf(p[0]), cfg.yOf(p[1]), r, color, w));
}

const panelA = {id:'a', x0:722, x1:1484, yTopPx:108, yBottomPx:771, vTop:0, vBottom:30, axisY:771,
  ticks:riTicks, tickPx:(i, n) => 108 + i * 663 / (n - 1), labelGap:52, labelScale:0.94,
  letterX:700, letterY:72, xTitleX:1100, yTitleX:572, yTitleY:492, yTitle:'-Ri', yTitleSub:'B'};
const panelB = {id:'b', x0:255.5, x1:989, yTopPx:1082, yBottomPx:1753, vTop:0.1, vBottom:0, axisY:1753,
  ticks:cdTicks, tickPx:(i, n) => 1753 - i * 671 / (n - 1), labelGap:50, labelScale:0.91,
  letterX:236, letterY:1036, xTitleX:609, yTitleX:58, yTitleY:1448, yTitle:'C', yTitleSub:'D'};
const panelC = {id:'c', x0:1305.7, x1:2005, yTopPx:1080, yBottomPx:1755, vTop:0.03, vBottom:0, axisY:1755,
  ticks:chTicks, tickPx:(i, n) => 1755 - i * 675 / (n - 1), labelGap:50, labelScale:0.86,
  letterX:1289, letterY:1036, xTitleX:1668, yTitleX:1092, yTitleY:1448, yTitle:'C', yTitleSub:'H'};

// ---- panel (a)
const rootA = drawPanel(panelA);
const marksA = group(rootA, 'scatter-marks');
drawBand(marksA, panelA, 'exp3-dense-band', a_bandExp3Log, a_bandExp3Lo, a_bandExp3Hi, BLUE);
drawSeries(marksA, panelA, 'exp3-series', a_exp3, drawCross, 10, BLUE, 3.6);
drawSeries(marksA, panelA, 'exp2-series', a_exp2, drawStar, 12, GRAY, 2.8);
drawBand(marksA, panelA, 'exp1-dense-band', a_bandExp1Log, a_bandExp1Lo, a_bandExp1Hi, ORANGE);
drawSeries(marksA, panelA, 'exp1-series', a_exp1, drawCircle, 14.5, ORANGE, 1.8);
drawBand(marksA, panelA, 'ctrl-dense-band', a_bandCtrlLog, a_bandCtrlLo, a_bandCtrlHi, '#1e1e1e');
drawSeries(marksA, panelA, 'ctrl-series', a_ctrl, drawTriangle, 11, BLACK, 3.2);

// ---- panel (b)
const rootB = drawPanel(panelB);
const marksB = group(rootB, 'scatter-marks');
const meansB = group(marksB, 'observed-bin-means');
b_obsMeanLog.forEach((lg, i) => {
  const c = make(meansB, 'circle', {cx:panelB.xOf(lg), cy:panelB.yOf(b_obsMean[i]), r:12.5, fill:'#6cc636'});
  
  
});
drawBand(marksB, panelB, 'tail-band', b_tailLog, b_tailLo, b_tailHi, '#9a9a9a');
drawSeries(marksB, panelB, 'ctrl-series', b_ctrl, drawTriangle, 11, BLACK, 3);
drawBand(marksB, panelB, 'exp1-dense-band', b_bandExp1Log, b_bandExp1Lo, b_bandExp1Hi, ORANGE);
drawSeries(marksB, panelB, 'exp1-series', b_exp1, drawCircle, 13.5, ORANGE, 1.8);
drawBand(marksB, panelB, 'exp2-dense-band', b_bandExp2Log, b_bandExp2Lo, b_bandExp2Hi, GRAY);
drawSeries(marksB, panelB, 'exp2-series', b_exp2, drawStar, 12, GRAY, 3.2);
drawBand(marksB, panelB, 'exp3-dense-band', b_bandExp3Log, b_bandExp3Lo, b_bandExp3Hi, BLUE);
drawSeries(marksB, panelB, 'exp3-series', b_exp3, drawCross, 12, '#4444d4', 3.6);
const obsB = group(marksB, 'observations-scatter');
b_obs.forEach(p => {
  const c = make(obsB, 'circle', {cx:panelB.xOf(p[0]), cy:panelB.yOf(p[1]), r:11, fill:'none', stroke:'rgba(205,60,60,0.36)', 'stroke-width':1.6});
  
  
});
const barsB = group(marksB, 'observed-range-bars');
b_obsMeanLog.forEach((lg, i) => {
  const x = panelB.xOf(lg);
  const l = make(barsB, 'line', {x1:x, x2:x, y1:panelB.yOf(b_obsLow[i]), y2:panelB.yOf(b_obsHigh[i]), stroke:'#333', 'stroke-width':4.6, 'stroke-linecap':'round'});
  
  
});

// ---- panel (c)
const rootC = drawPanel(panelC);
const marksC = group(rootC, 'scatter-marks');
drawBand(marksC, panelC, 'exp3-dense-band', c_bandExp3Log, c_bandExp3Lo, c_bandExp3Hi, BLUE);
drawSeries(marksC, panelC, 'exp3-series', c_exp3, drawCross, 11, BLUE, 3.2);
drawSeries(marksC, panelC, 'exp2-series', c_exp2, drawStar, 12, GRAY, 2.8);
drawBand(marksC, panelC, 'exp1-dense-band', c_bandExp1Log, c_bandExp1Lo, c_bandExp1Hi, ORANGE);
drawSeries(marksC, panelC, 'exp1-series', c_exp1, drawCircle, 13, ORANGE, 1.8);
drawBand(marksC, panelC, 'ctrl-dense-band', c_bandCtrlLog, c_bandCtrlLo, c_bandCtrlHi, '#242424');
drawSeries(marksC, panelC, 'ctrl-series', c_ctrl, drawTriangle, 11, BLACK, 3.2);

// ---- legend
const legend = group(rootC, 'legend');
const box = make(legend, 'rect', {x:1749, y:1182, width:235, height:410, fill:'none', stroke:'#111', 'stroke-width':2.6});


const legendFns = [drawCross, drawStar, drawCircle, drawTriangle];
const legendColors = ['#3c3cdc', '#c8c8c8', '#f0a030', '#111111'];
const legendRow = [1236, 1335, 1434, 1535];
const legendSize = [20, 21, 20, 20];
legendLabels.forEach((lab, i) => {
  const g = group(legend, 'legend-entry-' + lab.toLowerCase());
  legendFns[i](g, 1797, legendRow[i], legendSize[i], legendColors[i], 2.8);
  const t = make(g, 'text', {transform:`translate(1845,${legendRow[i] + 17}) scale(0.95,1)`, 'font-size':52, 'font-weight':'bold', stroke:'#000', 'stroke-width':0.7});
  
  
  t.textContent = lab;
});
</script>
</body>
</html>
